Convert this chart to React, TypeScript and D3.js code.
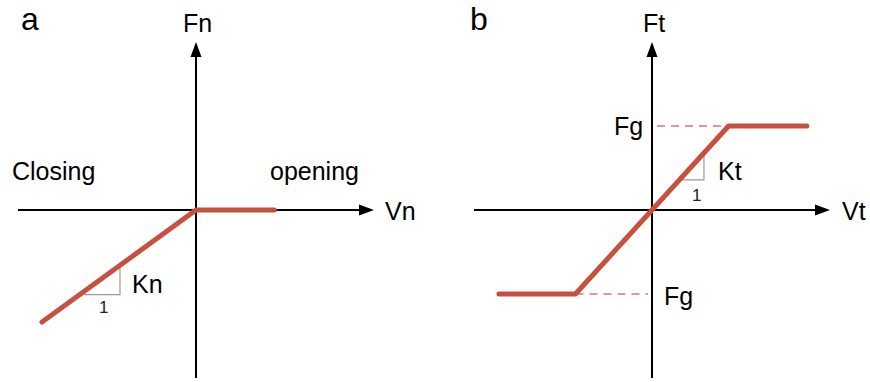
import React from "react";
import * as d3 from "d3";

// Normal behaviour: linear stiffness when closing, zero force when opening
const normalDisp = [-0.865, 0, 0.44];
const normalForce = [-0.667, 0, 0];

// Tangential behaviour: linear stiffness capped at ±Fg
const shearDisp = [-0.86, -0.43, 0.43, 0.87];
const shearForce = [-0.5, -0.5, 0.5, 0.5];

// Unit-slope triangles (x of the two ends of the horizontal leg)
const normalTriangle = [-0.63, -0.427];
const shearTriangle = [0.17, 0.292];

const RED = "#c8503f";
const DASH = "#d9786c";
const FONT = "'Liberation Sans', Arial, Helvetica, sans-serif";

const W = 870;
const H = 382;

type Scale = d3.ScaleLinear<number, number>;

type PanelProps = {
  x0: number;
  x1: number;
  xs: number[];
  ys: number[];
  tri: number[];
  children?: (x: Scale, y: Scale) => React.ReactNode;
};

function Axes({ x, y }: { x: Scale; y: Scale }) {
  const ox = x(0);
  const oy = y(0);
  const [xl, xr] = x.range();
  const [yb, yt] = y.range();
  const L = 15;
  const hw = 5.5;
  return (
    <g>
      <line x1={xl} y1={oy} x2={xr - L + 1} y2={oy} stroke="#000" strokeWidth={2} />
      <path d={`M${xr},${oy} L${xr - L},${oy - hw} L${xr - L},${oy + hw} Z`} fill="#000" />
      <line x1={ox} y1={yb} x2={ox} y2={yt + L - 1} stroke="#000" strokeWidth={2} />
      <path d={`M${ox},${yt} L${ox - hw},${yt + L} L${ox + hw},${yt + L} Z`} fill="#000" />
    </g>
  );
}

function Panel({ x0, x1, xs, ys, tri, children }: PanelProps) {
  const x = d3.scaleLinear().domain([-1, 1]).range([x0, x1]);
  const y = d3.scaleLinear().domain([-1, 1]).range([378, 42]);
  const pts = xs.map((v, i) => [v, ys[i]] as [number, number]);
  const line = d3
    .line<[number, number]>()
    .x((d) => x(d[0]))
    .y((d) => y(d[1]));

  // stiffness = steepest segment of the curve
  const k = d3.max(d3.pairs(pts), ([a, b]) => (b[1] - a[1]) / (b[0] - a[0]))!;
  const lowX = Math.min(tri[0], tri[1]);
  const highX = Math.max(tri[0], tri[1]);
  const baseY = y(k * lowX) + 3;
  const triPath = `M${x(lowX)},${baseY} L${x(highX)},${baseY} L${x(highX)},${y(k * highX)}`;

  return (
    <g>
      <Axes x={x} y={y} />
      <path d={triPath} fill="none" stroke="#9a9a9a" strokeWidth={1.2} />
      {children && children(x, y)}
      <path d={line(pts) ?? ""} fill="none" stroke={RED} strokeWidth={5} strokeLinecap="round" strokeLinejoin="round" />
    </g>
  );
}

export default function App() {
  return (
    <svg
      width={W}
      height={H}
      viewBox={`0 0 ${W} ${H}`}
      style={{ position: "absolute", left: 0, top: 0, background: "#fff" }}
      fontFamily={FONT}
    >
      <rect width={W} height={H} fill="#fff" />

      <Panel x0={18} x1={374} xs={normalDisp} ys={normalForce} tri={normalTriangle} />
      <text x={21} y={30} fontSize={32}>a</text>
      <text x={183} y={32} fontSize={25}>Fn</text>
      <text x={385} y={220} fontSize={25}>Vn</text>
      <text x={12} y={180} fontSize={25}>Closing</text>
      <text x={270} y={180} fontSize={25}>opening</text>
      <text x={132} y={293} fontSize={25}>Kn</text>
      <text x={99} y={313} fontSize={17} fill="#222">1</text>

      <Panel x0={474} x1={830} xs={shearDisp} ys={shearForce} tri={shearTriangle}>
        {(x, y) => (
          <g stroke={DASH} strokeWidth={1.6} strokeDasharray="8 6">
            <line x1={x(0) + 5} y1={y(shearForce[3])} x2={x(shearDisp[2])} y2={y(shearForce[3])} />
            <line x1={x(shearDisp[1])} y1={y(shearForce[0])} x2={x(0) - 4} y2={y(shearForce[0])} />
          </g>
        )}
      </Panel>
      <text x={470} y={30} fontSize={32}>b</text>
      <text x={643} y={32} fontSize={25}>Ft</text>
      <text x={842} y={220} fontSize={25}>Vt</text>
      <text x={614} y={135} fontSize={25}>Fg</text>
      <text x={664} y={305} fontSize={25}>Fg</text>
      <text x={718} y={180} fontSize={25}>Kt</text>
      <text x={692} y={201} fontSize={17} fill="#222">1</text>
    </svg>
  );
}
